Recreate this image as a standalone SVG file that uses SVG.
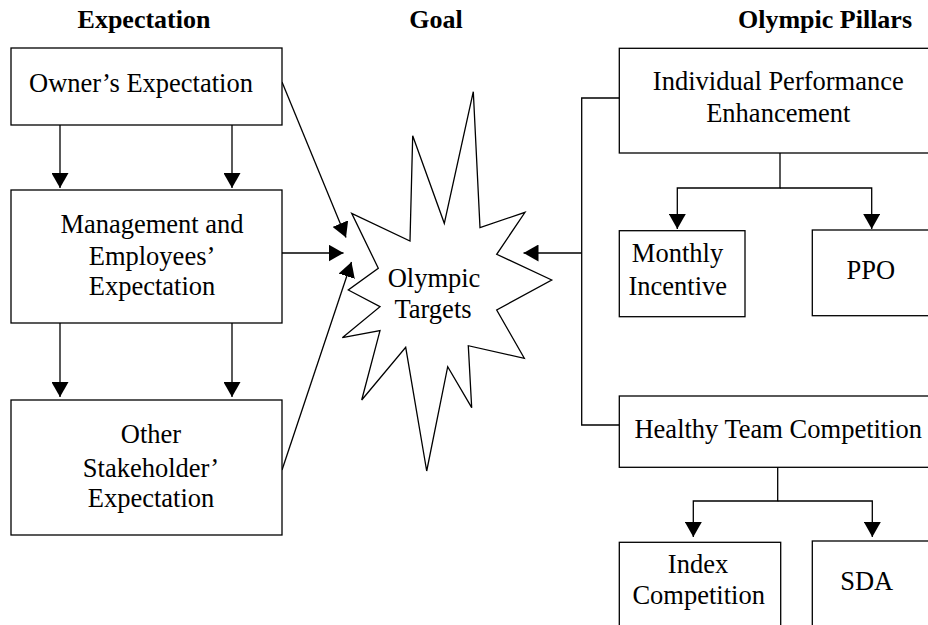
<svg xmlns="http://www.w3.org/2000/svg" width="928" height="625" viewBox="0 0 928 625">
<defs>
<style>
.box{fill:#fff;stroke:#000;stroke-width:1.3}
.ln{fill:none;stroke:#000;stroke-width:1.3}
.t{font-family:"Liberation Serif","Times New Roman",serif;font-size:26.5px;fill:#000;text-anchor:middle}
.h{font-family:"Liberation Serif","Times New Roman",serif;font-size:26px;font-weight:bold;fill:#000;text-anchor:middle}
</style>
<marker id="ah" viewBox="0 0 15 17" refX="15" refY="8.5" markerWidth="15" markerHeight="17" markerUnits="userSpaceOnUse" orient="auto">
<path d="M0,0 L15,8.5 L0,17 Z" fill="#000"/>
</marker>
</defs>
<rect width="928" height="625" fill="#fff"/>
<g id="headers">
<text class="h" x="144" y="28">Expectation</text>
<text class="h" x="436" y="28">Goal</text>
<text class="h" x="825" y="28">Olympic Pillars</text>
</g>
<g id="connectors">
<path class="ln" d="M60,125 V188" marker-end="url(#ah)"/>
<path class="ln" d="M232,125 V188" marker-end="url(#ah)"/>
<path class="ln" d="M60,323 V397" marker-end="url(#ah)"/>
<path class="ln" d="M232,323 V397" marker-end="url(#ah)"/>
<path class="ln" d="M282,82 L346,237.5" marker-end="url(#ah)"/>
<path class="ln" d="M282,253 H343.5" marker-end="url(#ah)"/>
<path class="ln" d="M282,470 L351.5,262" marker-end="url(#ah)"/>
<path class="ln" d="M619,98 H581.7 V425 H619"/>
<path class="ln" d="M581.7,253 H523.5" marker-end="url(#ah)"/>
<path class="ln" d="M780,153 V188 H677.3 V229" marker-end="url(#ah)"/>
<path class="ln" d="M780,188 H871.7 V229" marker-end="url(#ah)"/>
<path class="ln" d="M777.7,467 V501 H693.3 V537" marker-end="url(#ah)"/>
<path class="ln" d="M777.7,501 H872.3 V537" marker-end="url(#ah)"/>
</g>
<g id="owner">
<rect class="box" x="11" y="48" width="271" height="77"/>
<text class="t" x="141" y="92">Owner’s Expectation</text>
</g>
<g id="management">
<rect class="box" x="11" y="190" width="271" height="133"/>
<text class="t" x="152" y="233">Management and</text>
<text class="t" x="152" y="265">Employees’</text>
<text class="t" x="152" y="295">Expectation</text>
</g>
<g id="other">
<rect class="box" x="11" y="400" width="271" height="135"/>
<text class="t" x="151" y="443">Other</text>
<text class="t" x="151" y="476.5">Stakeholder’</text>
<text class="t" x="151" y="506.5">Expectation</text>
</g>
<g id="goal">
<polygon class="box" points="473.3,91.7 480,227.7 525,212.3 496.7,254.3 551.7,280 496.7,310 524.3,358.3 468.3,345.7 471.7,407.7 447.7,366.7 426.7,471 405.7,347.3 361.7,400 380,330.7 342.3,337.7 380,306.7 348.3,290 378.3,268.3 351.7,213.3 410,241 412.7,135.7 444.3,223.3"/>
<text class="t" x="434" y="286.5">Olympic</text>
<text class="t" x="433" y="318">Targets</text>
</g>
<g id="individual">
<rect class="box" x="619.3" y="48.3" width="330" height="104.7"/>
<text class="t" x="778.3" y="90">Individual Performance</text>
<text class="t" x="778.3" y="121.7">Enhancement</text>
</g>
<g id="monthly">
<rect class="box" x="619.3" y="230.7" width="125.7" height="86"/>
<text class="t" x="677.5" y="261.7">Monthly</text>
<text class="t" x="677.8" y="295">Incentive</text>
</g>
<g id="ppo">
<rect class="box" x="812.3" y="230" width="140" height="85.7"/>
<text class="t" x="870.8" y="279.3">PPO</text>
</g>
<g id="healthy">
<rect class="box" x="619.3" y="396" width="330" height="71.3"/>
<text class="t" x="778.3" y="437.7">Healthy Team Competition</text>
</g>
<g id="index">
<rect class="box" x="619.3" y="542.3" width="161.4" height="100"/>
<text class="t" x="698" y="573.3">Index</text>
<text class="t" x="698.7" y="604">Competition</text>
</g>
<g id="sda">
<rect class="box" x="812.3" y="541" width="140" height="100"/>
<text class="t" x="866.7" y="590">SDA</text>
</g>
</svg>
